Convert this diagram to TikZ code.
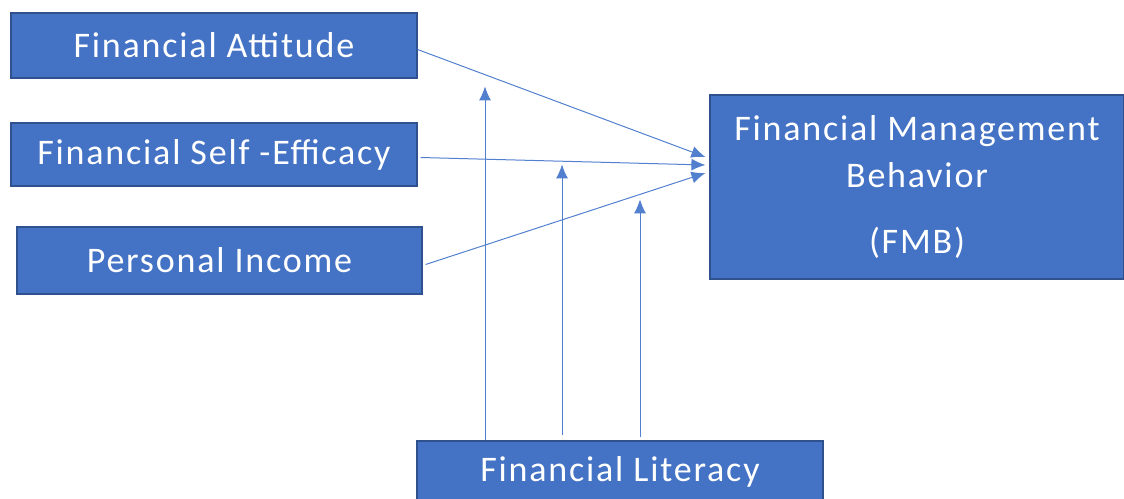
\documentclass[tikz,border=0pt]{standalone}
\usepackage{fontspec}
\setmainfont{Carlito}[LetterSpace=5]
\usetikzlibrary{positioning,calc,arrows.meta}
\definecolor{boxblue}{RGB}{68,114,196}
\definecolor{boxline}{RGB}{47,82,143}
\definecolor{arrowblue}{RGB}{82,128,206}

\begin{document}
\begin{tikzpicture}[x=1pt,y=1pt,
box/.style={rectangle,draw=boxline,line width=1.2pt,fill=boxblue,text=white,font=\fontsize{36}{43}\selectfont,inner sep=0pt},
edge/.style={-{Latex[length=14pt,width=12pt]},draw=arrowblue,line width=1pt}]

\useasboundingbox (0,0) rectangle (1124,-498);

% factor boxes
\node[box,minimum width=406pt,minimum height=65pt] (att) at (214,-45.5) {Financial Attitude};
\node[box,minimum width=406pt,minimum height=63pt] (se) at (214,-154.5) {Financial Self -Efficacy};
\node[box,minimum width=405pt,minimum height=67pt] (inc) at (219.5,-260.5) {Personal Income};

% outcome and moderator
\node[box,minimum width=414pt,minimum height=184pt,align=center] (fmb) at (917,-187)
    {Financial Management\\[4pt] Behavior\\[23pt] (FMB)};
\node[box,minimum width=406pt,minimum height=62pt] (lit) at (620,-472) {Financial Literacy};

% direct effects
\draw[edge] ([yshift=-4pt]att.east) -- ([shift={(-4pt,30pt)}]fmb.west);
\draw[edge] ([xshift=3pt,yshift=-3pt]se.east) -- ([shift={(-4pt,22pt)}]fmb.west);
\draw[edge] ([xshift=3pt,yshift=-4pt]inc.east) -- ([shift={(-4pt,14pt)}]fmb.west);

% moderation
\draw[edge] ([xshift=-135pt]lit.north) -- ++(0,354);
\draw[edge] ([xshift=-58pt,yshift=5pt]lit.north) -- ++(0,271);
\draw[edge] ([xshift=20pt,yshift=3pt]lit.north) -- ++(0,238);

\end{tikzpicture}
\end{document}
